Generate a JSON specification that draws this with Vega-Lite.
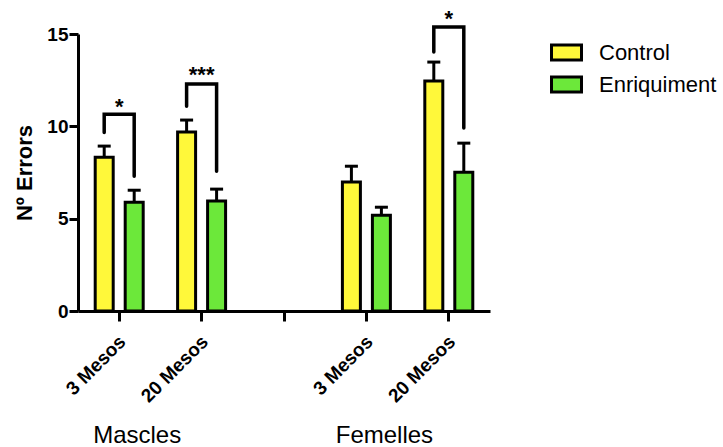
{
  "$schema": "https://vega.github.io/schema/vega-lite/v6.json",
  "autosize": {"type": "none"},
  "padding": {"left": 78, "top": 34, "right": 233, "bottom": 136},
  "width": 412,
  "height": 277,
  "background": "white",
  "config": {"view": {"stroke": null}, "font": "Liberation Sans"},
  "datasets": {
    "bars": [
      {"cat": "M3", "group": "Control", "value": 8.33, "err": 8.93},
      {"cat": "M3", "group": "Enriquiment", "value": 5.89, "err": 6.54},
      {"cat": "M20", "group": "Control", "value": 9.69, "err": 10.34},
      {"cat": "M20", "group": "Enriquiment", "value": 5.95, "err": 6.6},
      {"cat": "F3", "group": "Control", "value": 6.98, "err": 7.84},
      {"cat": "F3", "group": "Enriquiment", "value": 5.19, "err": 5.62},
      {"cat": "F20", "group": "Control", "value": 12.45, "err": 13.48},
      {"cat": "F20", "group": "Enriquiment", "value": 7.52, "err": 9.09}
    ],
    "brackets": [
      {"id": "a", "cat": "M3", "group": "Control", "ord": 1, "y": 9.67},
      {"id": "a", "cat": "M3", "group": "Control", "ord": 2, "y": 10.66},
      {"id": "a", "cat": "M3", "group": "Enriquiment", "ord": 3, "y": 10.66},
      {"id": "a", "cat": "M3", "group": "Enriquiment", "ord": 4, "y": 7.3},
      {"id": "b", "cat": "M20", "group": "Control", "ord": 1, "y": 11.09},
      {"id": "b", "cat": "M20", "group": "Control", "ord": 2, "y": 12.29},
      {"id": "b", "cat": "M20", "group": "Enriquiment", "ord": 3, "y": 12.29},
      {"id": "b", "cat": "M20", "group": "Enriquiment", "ord": 4, "y": 7.57},
      {"id": "c", "cat": "F20", "group": "Control", "ord": 1, "y": 14.02},
      {"id": "c", "cat": "F20", "group": "Control", "ord": 2, "y": 15.38},
      {"id": "c", "cat": "F20", "group": "Enriquiment", "ord": 3, "y": 15.38},
      {"id": "c", "cat": "F20", "group": "Enriquiment", "ord": 4, "y": 9.91}
    ],
    "stars": [
      {"cat": "M3", "label": "*", "y": 11.31},
      {"cat": "M20", "label": "***", "y": 13.05},
      {"cat": "F20", "label": "*", "y": 16.08}
    ],
    "groups": [
      {"cat": "M3", "label": "Mascles"},
      {"cat": "F3", "label": "Femelles"}
    ]
  },
  "layer": [
    {
      "data": {"name": "bars"},
      "mark": {"type": "bar", "stroke": "black", "strokeWidth": 3, "clip": false},
      "encoding": {
        "x": {
          "field": "cat", "type": "nominal",
          "scale": {"domain": ["M3", "M20", "gap", "F3", "F20"], "paddingInner": 0.272, "paddingOuter": 0.136},
          "axis": {
            "title": null,
            "labelExpr": "datum.value == 'M3' || datum.value == 'F3' ? '3 Mesos' : (datum.value == 'gap' ? '' : '20 Mesos')",
            "labelAngle": -45,
            "labelFontSize": 19,
            "labelFontWeight": "bold",
            "labelColor": "black",
            "labelPadding": 11,
            "labelOffset": -3,
            "domainColor": "black",
            "domainWidth": 3,
            "tickColor": "black",
            "tickWidth": 3,
            "tickSize": 10,
            "grid": false
          }
        },
        "xOffset": {
          "field": "group", "type": "nominal",
          "scale": {"domain": ["Control", "Enriquiment"], "paddingInner": 0.4, "paddingOuter": 0.2}
        },
        "y": {
          "field": "value", "type": "quantitative",
          "scale": {"domain": [0, 15], "nice": false},
          "axis": {
            "title": "Nº Errors",
            "titleFontSize": 22,
            "titleFontWeight": "bold",
            "titleColor": "black",
            "titlePadding": 10,
            "values": [0, 5, 10, 15],
            "labelFontSize": 19,
            "labelFontWeight": "bold",
            "labelColor": "black",
            "labelPadding": 1,
            "domainColor": "black",
            "domainWidth": 3,
            "tickColor": "black",
            "tickWidth": 3,
            "tickSize": 9,
            "grid": false
          }
        },
        "color": {
          "field": "group", "type": "nominal",
          "scale": {"domain": ["Control", "Enriquiment"], "range": ["#FFF83A", "#6CE83A"]},
          "legend": {
            "title": null,
            "orient": "none",
            "legendX": 472,
            "legendY": 2,
            "symbolType": "M-1,-0.5H1V0.5H-1Z",
            "symbolSize": 900,
            "symbolStrokeColor": "black",
            "symbolStrokeWidth": 3,
            "symbolOpacity": 1,
            "labelFontSize": 22,
            "labelColor": "black",
            "labelOffset": 16,
            "rowPadding": 2
          }
        }
      }
    },
    {
      "data": {"name": "bars"},
      "mark": {"type": "rule", "color": "black", "strokeWidth": 3},
      "encoding": {
        "x": {"field": "cat", "type": "nominal"},
        "xOffset": {"field": "group", "type": "nominal"},
        "y": {"field": "value", "type": "quantitative"},
        "y2": {"field": "err"}
      }
    },
    {
      "data": {"name": "bars"},
      "mark": {"type": "tick", "color": "black", "thickness": 3, "size": 13, "opacity": 1},
      "encoding": {
        "x": {"field": "cat", "type": "nominal"},
        "xOffset": {"field": "group", "type": "nominal"},
        "y": {"field": "err", "type": "quantitative"}
      }
    },
    {
      "data": {"name": "brackets"},
      "mark": {"type": "line", "color": "black", "strokeWidth": 3.5, "strokeJoin": "miter", "strokeCap": "round", "clip": false},
      "encoding": {
        "x": {"field": "cat", "type": "nominal"},
        "xOffset": {"field": "group", "type": "nominal"},
        "y": {"field": "y", "type": "quantitative"},
        "detail": {"field": "id"},
        "order": {"field": "ord", "type": "quantitative"}
      }
    },
    {
      "data": {"name": "stars"},
      "mark": {"type": "text", "fontSize": 22, "fontWeight": "bold", "baseline": "middle", "dy": 5, "color": "black", "clip": false},
      "encoding": {
        "x": {"field": "cat", "type": "nominal"},
        "y": {"field": "y", "type": "quantitative"},
        "text": {"field": "label"}
      }
    },
    {
      "data": {"name": "groups"},
      "mark": {"type": "text", "fontSize": 24, "baseline": "alphabetic", "dx": 18, "color": "black", "clip": false},
      "encoding": {
        "x": {"field": "cat", "type": "nominal"},
        "y": {"datum": -7.17},
        "text": {"field": "label"}
      }
    }
  ]
}
